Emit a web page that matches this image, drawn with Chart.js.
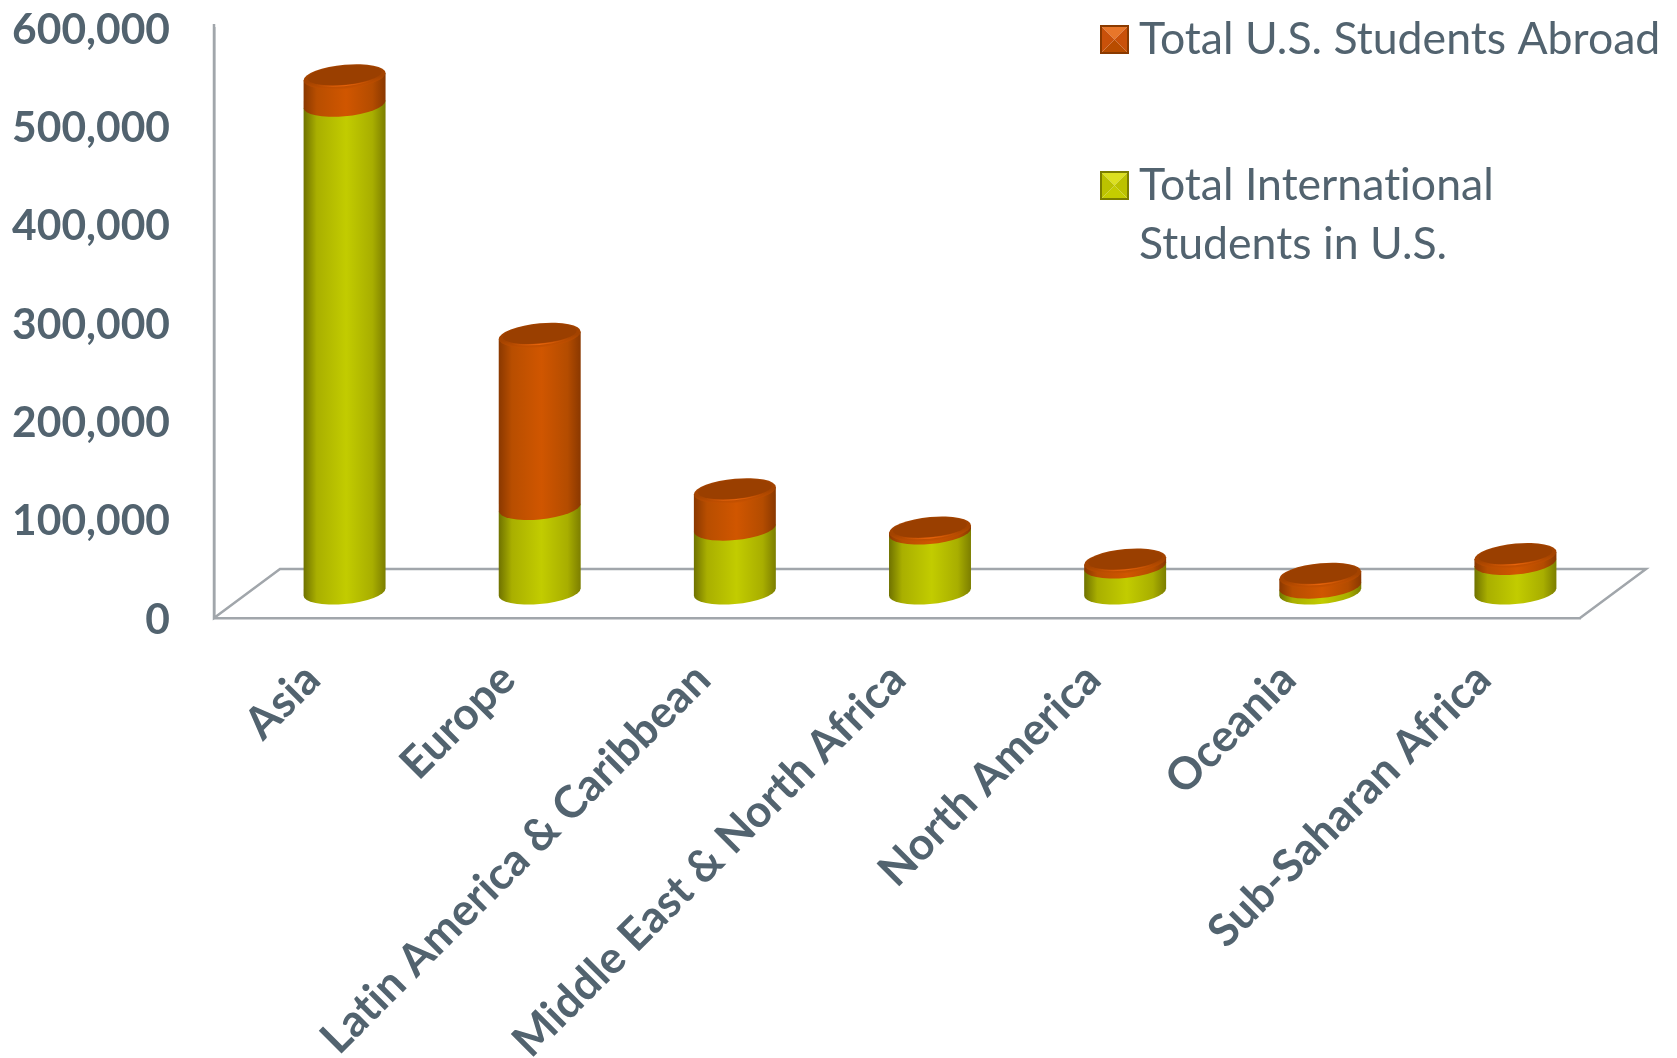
<!DOCTYPE html>
<html>
<head>
<meta charset="utf-8">
<title>Students chart</title>
<script src="https://cdn.jsdelivr.net/npm/chart.js"></script>
<style>
    html, body { margin: 0; padding: 0; background: #fff; }
    #wrap { width: 1677px; height: 1058px; }
</style>
</head>
<body>
<div id="wrap"><canvas id="chart"></canvas></div>
<script>
const categories = ['Asia', 'Europe', 'Latin America & Caribbean', 'Middle East & North Africa', 'North America', 'Oceania', 'Sub-Saharan Africa'];
const internationalStudents = [496000, 86000, 65000, 61000, 26500, 6000, 30000];
const usStudentsAbroad = [28000, 175000, 38000, 3000, 5000, 11000, 7000];
const yTickValues = [0, 100000, 200000, 300000, 400000, 500000, 600000];
const legendAbroad = ['Total U.S. Students Abroad'];
const legendInternational = ['Total International', 'Students in U.S.'];

const textColor = '#52636f';
const axisColor = '#a1a6ab';
const fontName = 'Lato, Carlito, sans-serif';

// 3D look: floor depth, bars stand halfway back on it
const floorDX = 66;
const floorDY = 49;
const barLift = 26;
const shear = -0.09;
const capHeight = 12;

const yellowStops = ['#6f7200', '#a9af00', '#c2cc00', '#a8ae00', '#7c7e00'];
const orangeStops = ['#8a3800', '#b84e00', '#d05600', '#b44c00', '#8a3800'];

function sideGradient(ctx, a, stops) {
    const g = ctx.createLinearGradient(-a, 0, a, 0);
    g.addColorStop(0, stops[0]);
    g.addColorStop(0.16, stops[1]);
    g.addColorStop(0.52, stops[2]);
    g.addColorStop(0.84, stops[3]);
    g.addColorStop(1, stops[4]);
    return g;
}

function drawCylinderPart(ctx, bar, stops, withCap) {
    const a = bar.width / 2;
    ctx.save();
    ctx.translate(bar.x + floorDX / 2, -barLift);
    ctx.transform(1, shear, 0, 1, 0, 0);

    ctx.beginPath();
    ctx.moveTo(-a, bar.y);
    ctx.lineTo(-a, bar.base);
    ctx.ellipse(0, bar.base, a, capHeight, 0, Math.PI, 0, true);
    ctx.lineTo(a, bar.y);
    ctx.closePath();
    ctx.fillStyle = sideGradient(ctx, a, stops);
    ctx.fill();

    if (withCap) {
        const edge = ctx.createLinearGradient(0, bar.y - capHeight, 0, bar.y + capHeight);
        edge.addColorStop(0, '#a34300');
        edge.addColorStop(0.6, '#a34300');
        edge.addColorStop(1, '#c85200');
        ctx.beginPath();
        ctx.ellipse(0, bar.y, a, capHeight, 0, 0, Math.PI * 2);
        ctx.fillStyle = edge;
        ctx.fill();
        ctx.beginPath();
        ctx.ellipse(0, bar.y - 1.5, a - 4, capHeight - 2.5, 0, 0, Math.PI * 2);
        ctx.fillStyle = '#9a3f00';
        ctx.fill();
        const rim = ctx.createLinearGradient(-a, 0, a, 0);
        rim.addColorStop(0.15, 'rgba(224,96,10,0)');
        rim.addColorStop(0.5, 'rgba(232,100,12,1)');
        rim.addColorStop(0.85, 'rgba(224,96,10,0)');
        ctx.beginPath();
        ctx.ellipse(0, bar.y - 0.5, a - 4, capHeight - 2.5, 0, Math.PI * 0.15, Math.PI * 0.85);
        ctx.strokeStyle = rim;
        ctx.lineWidth = 1.2;
        ctx.stroke();
    }
    ctx.restore();
}

function legendMarker(ctx, x, y, s, c) {
    const m = s / 2;
    const tri = (pts, color) => {
        ctx.beginPath();
        ctx.moveTo(pts[0], pts[1]);
        ctx.lineTo(pts[2], pts[3]);
        ctx.lineTo(m + x, m + y);
        ctx.closePath();
        ctx.fillStyle = color;
        ctx.fill();
    };
    tri([x, y, x + s, y], c.top);
    tri([x + s, y, x + s, y + s], c.side);
    tri([x + s, y + s, x, y + s], c.bottom);
    tri([x, y + s, x, y], c.side);
    ctx.strokeStyle = c.border;
    ctx.lineWidth = 2;
    ctx.strokeRect(x, y, s, s);
}

const cylinders = {
    id: 'cylinders',
    beforeDraw(chart) {
        chart.ctx.letterSpacing = '0.01px'; // no ti ligature in the labels
    },
    beforeDatasetsDraw(chart) {
        const ctx = chart.ctx;
        const { left, right, bottom, top } = chart.chartArea;
        ctx.save();
        ctx.strokeStyle = axisColor;
        ctx.lineWidth = 2.5;
        ctx.beginPath();
        ctx.moveTo(left, top - 4);
        ctx.lineTo(left, bottom);
        ctx.lineTo(left + floorDX, bottom - floorDY);
        ctx.lineTo(right + floorDX, bottom - floorDY);
        ctx.lineTo(right, bottom);
        ctx.stroke();
        ctx.restore();

        // yellow first, the orange part has to sit on top of it
        chart.getDatasetMeta(0).data.forEach((bar) => drawCylinderPart(ctx, bar, yellowStops, false));
        chart.getDatasetMeta(1).data.forEach((bar) => drawCylinderPart(ctx, bar, orangeStops, true));
    },
    beforeDatasetDraw() {
        return false; // the bars are already painted as cylinders
    },
    afterDraw(chart) {
        const ctx = chart.ctx;
        ctx.save();
        ctx.font = '44.6px ' + fontName;
        ctx.textBaseline = 'alphabetic';
        legendMarker(ctx, 1101, 26, 27, { top: '#e8762a', side: '#c9510a', bottom: '#b84c00', border: '#8a3a00' });
        ctx.fillStyle = textColor;
        ctx.fillText(legendAbroad[0], 1139, 54);
        legendMarker(ctx, 1101, 172, 27, { top: '#dce020', side: '#bcc200', bottom: '#c4cc00', border: '#7c7e00' });
        ctx.fillStyle = textColor;
        ctx.fillText(legendInternational[0], 1139, 200);
        ctx.fillText(legendInternational[1], 1139, 259);
        ctx.restore();
    }
};

new Chart(document.getElementById('chart'), {
    type: 'bar',
    data: {
        labels: categories,
        datasets: [
            { label: 'Total International Students in U.S.', data: internationalStudents, backgroundColor: '#c2cc00' },
            { label: 'Total U.S. Students Abroad', data: usStudentsAbroad, backgroundColor: '#d05600' }
        ]
    },
    options: {
        responsive: true,
        maintainAspectRatio: false,
        animation: false,
        layout: { padding: { top: 28, right: 97, left: 0, bottom: 0 } },
        plugins: { legend: { display: false }, tooltip: { enabled: false } },
        datasets: { bar: { categoryPercentage: 1, barPercentage: 0.42 } },
        scales: {
            x: {
                stacked: true,
                grid: { display: false, drawTicks: false },
                border: { color: axisColor, width: 2.5 },
                afterFit(scale) {
                    scale.height = 440;
                    scale.paddingLeft = 0;
                    scale.paddingRight = 0;
                },
                ticks: {
                    autoSkip: false,
                    minRotation: 45,
                    maxRotation: 45,
                    padding: 35,
                    labelOffset: 1,
                    color: textColor,
                    font: { family: fontName, size: 44.5, weight: 'bold' }
                }
            },
            y: {
                stacked: true,
                min: 0,
                max: 600000,
                grid: { display: false, drawTicks: false },
                border: { color: axisColor, width: 2.5 },
                afterFit(scale) {
                    scale.width = 214;
                    scale.paddingTop = 0;
                    scale.paddingBottom = 0;
                },
                afterBuildTicks(scale) {
                    scale.ticks = yTickValues.map((v) => ({ value: v }));
                },
                ticks: {
                    padding: 44,
                    labelOffset: 2,
                    color: textColor,
                    font: { family: fontName, size: 42.5, weight: 'bold' },
                    callback: (value) => value.toLocaleString('en-US')
                }
            }
        }
    },
    plugins: [cylinders]
});
</script>
</body>
</html>
